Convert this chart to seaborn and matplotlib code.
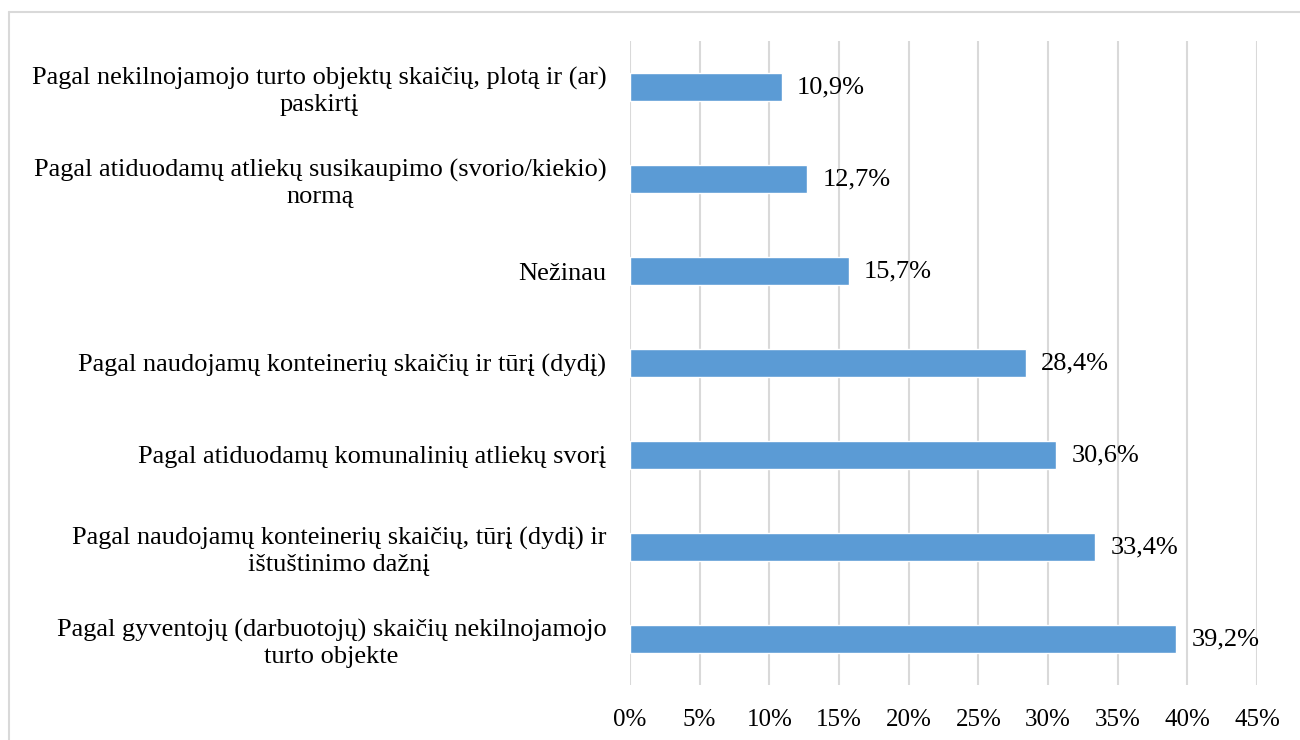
import matplotlib
matplotlib.use("Agg")
import matplotlib.pyplot as plt
import seaborn as sns
import pandas as pd
from matplotlib.lines import Line2D

# categories listed top to bottom
categories = [
    "Pagal nekilnojamojo turto objektų skaičių, plotą ir (ar)\npaskirtį",
    "Pagal atiduodamų atliekų susikaupimo (svorio/kiekio)\nnormą",
    "Nežinau",
    "Pagal naudojamų konteinerių skaičių ir tūrį (dydį)",
    "Pagal atiduodamų komunalinių atliekų svorį",
    "Pagal naudojamų konteinerių skaičių, tūrį (dydį) ir\ništuštinimo dažnį",
    "Pagal gyventojų (darbuotojų) skaičių nekilnojamojo\nturto objekte",
]
values = [10.9, 12.7, 15.7, 28.4, 30.6, 33.4, 39.2]
x_ticks = [0, 5, 10, 15, 20, 25, 30, 35, 40, 45]

sns.set_style("white", {"text.color": "black", "xtick.color": "black",
                        "ytick.color": "black"})
plt.rcParams["font.family"] = ["Liberation Serif", "DejaVu Serif"]

df = pd.DataFrame({"cat": categories, "val": values})

fig = plt.figure(figsize=(13, 7.4), dpi=100)
ax = fig.add_axes([630 / 1300, 1 - 685 / 740, 627 / 1300, 644 / 740])

sns.barplot(data=df, y="cat", x="val", orient="h", color="#5B9BD5",
            saturation=1, width=0.30, ax=ax, zorder=3)

ax.set_xlim(0, 45)
ax.set_ylim(6.5, -0.5)
ax.set_xticks(x_ticks)
ax.set_xticklabels([f"{t}%" for t in x_ticks], fontsize=18)
ax.set_yticks(range(len(categories)))
ax.set_yticklabels(categories, fontsize=19, multialignment="center",
                   linespacing=1.25)
ax.tick_params(axis="both", length=0, labelcolor="black")
ax.tick_params(axis="y", pad=17)
ax.tick_params(axis="x", pad=17)
ax.set_xlabel("")
ax.set_ylabel("")
ax.grid(axis="x", color="#D9D9D9", linewidth=1.5, zorder=0)
ax.set_axisbelow(True)
for s in ax.spines.values():
    s.set_visible(False)

for i, v in enumerate(values):
    ax.annotate(f"{v:.1f}%".replace(".", ","), xy=(v, i), xytext=(11, 0),
                textcoords="offset points", va="center", ha="left",
                fontsize=19, color="black")

# chart frame (top and left edges visible)
fig.add_artist(Line2D([9 / 1300, 9 / 1300], [0, 1 - 12 / 740],
                      transform=fig.transFigure, color="#D9D9D9", lw=1.5))
fig.add_artist(Line2D([9 / 1300, 1], [1 - 12 / 740, 1 - 12 / 740],
                      transform=fig.transFigure, color="#D9D9D9", lw=1.5))

fig.savefig("out.png", dpi=100)
